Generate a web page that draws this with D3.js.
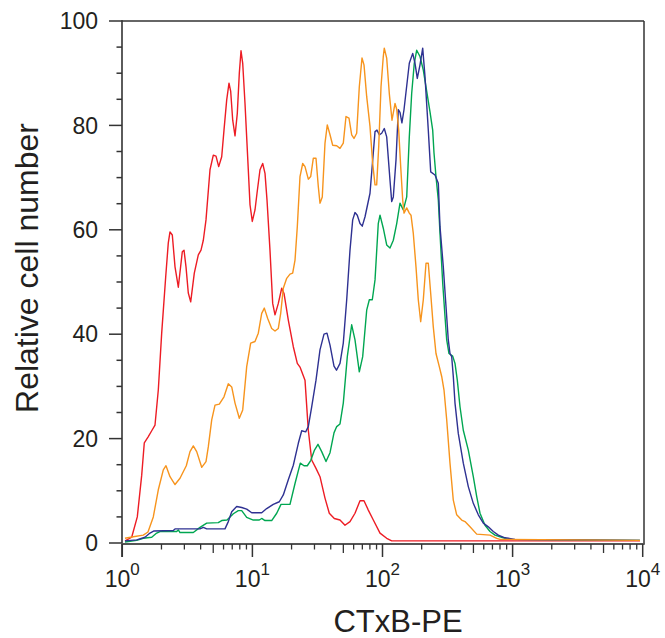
<!DOCTYPE html>
<html>
<head>
<meta charset="utf-8">
<script src="https://cdn.jsdelivr.net/npm/d3@7"></script>
<style>
  html, body { margin: 0; padding: 0; background: #fff; }
  svg { display: block; }
  text { font-family: "Liberation Sans", Arial, Helvetica, sans-serif; fill: #231f20; }
</style>
</head>
<body>
<svg id="chart" width="665" height="638"></svg>
<script>
// ---- data (x = CTxB-PE fluorescence, y = relative cell number) ----
const redData = [[1.049,0.4],[1.181,1.1],[1.304,5.0],[1.410,13.0],[1.476,19.2],[1.576,20.3],[1.692,21.6],[1.784,22.6],[1.891,29.3],[2.008,40.2],[2.156,51.0],[2.257,57.5],[2.326,59.6],[2.423,59.0],[2.542,52.9],[2.695,49.0],[2.892,55.8],[2.981,56.1],[3.088,52.9],[3.216,47.9],[3.355,46.2],[3.576,51.7],[3.839,55.2],[4.027,56.1],[4.195,58.0],[4.399,61.9],[4.722,71.5],[5.006,74.3],[5.251,74.1],[5.508,72.1],[5.808,74.0],[6.049,79.1],[6.346,84.9],[6.609,88.1],[6.811,86.5],[7.058,81.0],[7.351,78.0],[7.655,82.3],[7.932,90.0],[8.175,94.3],[8.424,91.9],[8.773,84.2],[9.300,71.5],[9.585,64.8],[9.98,61.6],[10.47,63.8],[10.85,67.0],[11.44,71.5],[12.00,72.7],[12.50,70.8],[12.95,65.7],[13.65,56.1],[14.32,45.9],[14.92,43.7],[15.82,45.9],[16.80,48.8],[17.50,47.8],[18.88,42.7],[20.63,37.6],[22.14,34.4],[23.22,33.7],[25.37,31.2],[26.90,21.6],[28.56,15.9],[30.82,14.3],[33.08,12.7],[36.14,8.6],[39.00,5.7],[42.61,4.7],[47.13,4.4],[51.49,3.4],[56.26,4.1],[61.46,5.7],[67.15,8.1],[72.08,8.1],[77.80,6.3],[85.01,4.4],[95.7,1.9],[107.7,0.9],[117.7,0.4],[9530,0.4]];

const orangeData = [[1.049,0.9],[1.215,1.2],[1.450,1.5],[1.576,2.1],[1.731,5.0],[1.891,10.2],[2.066,14.0],[2.167,14.8],[2.326,12.7],[2.542,11.2],[2.777,12.4],[3.104,14.8],[3.314,17.5],[3.514,18.6],[3.731,17.5],[4.076,14.5],[4.399,15.6],[4.581,18.4],[4.867,23.6],[5.159,26.4],[5.568,26.6],[6.049,28.0],[6.528,30.5],[6.934,29.9],[7.351,26.8],[7.932,23.9],[8.424,25.5],[9.04,33.8],[9.70,38.3],[10.47,38.6],[11.10,40.2],[11.79,44.0],[12.35,45.0],[13.11,43.0],[14.07,41.1],[14.92,40.6],[15.82,41.1],[16.50,44.0],[17.28,48.8],[18.35,50.7],[19.45,51.5],[20.40,51.7],[21.26,54.2],[22.14,60.6],[23.22,70.2],[24.36,72.7],[25.37,72.1],[26.90,69.7],[28.06,70.2],[29.38,73.7],[30.82,73.7],[32.10,68.3],[33.08,65.1],[34.45,66.3],[36.14,76.6],[37.64,80.1],[39.50,78.2],[41.42,76.2],[44.46,76.1],[47.13,75.6],[49.96,76.6],[52.41,81.7],[55.26,81.4],[57.96,78.2],[60.37,77.5],[63.33,78.5],[66.33,87.4],[69.56,92.9],[72.08,91.6],[75.6,85.5],[80.15,79.8],[84.07,72.7],[87.6,68.6],[90.2,68.6],[93.5,75.9],[97.4,87.4],[101.4,93.2],[103.2,94.8],[107.7,92.9],[112.8,86.1],[118.3,81.0],[124.8,84.2],[128.6,83.1],[133.2,79.1],[138.0,72.1],[143.0,65.7],[146.3,63.2],[153.5,64.2],[160.7,63.2],[165.6,62.8],[172.5,59.3],[180.9,52.9],[188.4,46.6],[196.6,42.4],[205.9,46.6],[216.0,53.6],[224.9,53.6],[234.7,47.8],[245.7,41.4],[257.7,36.3],[273.3,33.8],[285.1,31.9],[297.0,29.3],[311.5,23.6],[330.2,15.3],[350.1,8.2],[371.8,5.4],[406.1,4.4],[430.6,4.1],[470.6,3.1],[529.9,1.7],[670.4,1.5],[754.9,0.9],[800.2,0.7],[9530,0.5]];

const blueData = [[1.049,0.4],[1.290,0.6],[1.494,1.1],[1.633,1.9],[1.753,2.3],[2.466,2.4],[2.542,2.7],[3.956,2.7],[4.195,3.0],[4.454,2.7],[6.157,2.7],[6.528,4.1],[6.934,6.0],[7.575,7.0],[8.276,6.8],[9.04,6.5],[9.88,5.8],[11.79,5.8],[12.88,6.6],[14.47,7.4],[16.10,7.9],[17.28,9.2],[18.88,12.1],[20.63,14.9],[22.54,19.1],[23.93,21.5],[25.68,21.3],[26.90,22.3],[28.56,26.1],[30.82,31.2],[33.08,37.0],[35.51,40.0],[37.44,40.2],[39.50,37.9],[42.38,33.9],[44.30,33.1],[47.13,34.4],[49.96,38.3],[53.07,46.6],[56.26,56.1],[59.0,61.9],[61.46,63.3],[64.0,62.8],[67.15,61.2],[69.9,60.7],[73.4,62.5],[80.15,67.0],[87.6,78.8],[90.7,79.1],[94.5,78.2],[98.6,78.5],[103.2,79.4],[107.7,77.8],[114.2,69.5],[117.7,65.4],[121.1,66.3],[127.0,73.4],[132.3,83.0],[136.3,82.5],[141.0,80.5],[146.3,83.0],[160.7,91.9],[170.7,93.8],[177.8,91.9],[185.1,89.0],[194.2,91.6],[203.7,94.8],[212.2,89.3],[224.9,79.1],[234.7,71.1],[253.3,70.5],[268.5,68.9],[276.7,60.6],[293.3,52.9],[307.7,45.3],[320.4,38.9],[330.2,36.3],[340.3,35.7],[350.1,31.9],[360.8,26.8],[382.4,21.0],[417.9,15.3],[456.6,10.8],[498.8,7.6],[545.1,5.4],[595.6,3.8],[650.5,3.1],[710.6,2.2],[776.6,1.5],[874.2,1.0],[1043,0.7],[9530,0.5]];

const greenData = [[1.049,0.2],[1.290,0.5],[1.450,0.9],[1.683,1.1],[1.838,1.9],[1.949,2.2],[2.619,2.2],[2.695,2.5],[2.777,2.0],[3.514,2.0],[3.956,3.0],[4.454,3.8],[5.469,3.9],[5.808,4.3],[6.380,4.4],[7.133,5.6],[7.794,6.2],[8.276,6.2],[9.04,4.9],[10.16,4.4],[11.30,4.4],[11.79,4.7],[12.50,4.3],[14.07,4.3],[15.38,5.7],[16.59,7.4],[19.45,7.4],[21.26,11.4],[23.34,15.3],[24.93,14.8],[26.42,14.8],[28.06,15.8],[30.01,17.8],[31.93,18.9],[34.09,17.5],[36.79,15.6],[39.50,17.3],[42.38,21.1],[44.46,22.3],[47.13,22.8],[49.96,26.8],[53.64,35.7],[57.96,41.8],[61.46,38.9],[66.33,32.8],[70.43,35.7],[75.6,44.6],[79.2,46.6],[83.5,46.6],[87.6,50.4],[92.8,61.2],[95.7,62.8],[101.4,60.3],[107.7,57.1],[114.2,56.5],[121.1,58.0],[128.6,61.2],[136.3,65.1],[144.5,63.8],[153.5,66.3],[160.7,77.8],[167.6,86.1],[175.5,91.9],[183.2,94.4],[194.2,93.2],[205.9,90.6],[218.7,86.5],[231.8,82.6],[243.1,79.1],[248.8,74.7],[257.7,70.2],[268.5,65.7],[276.7,59.3],[290.2,49.8],[302.3,43.4],[311.5,38.9],[324.4,36.3],[346.4,35.8],[360.8,34.4],[375.8,31.2],[394.2,26.1],[417.9,21.6],[456.6,17.8],[498.8,12.7],[529.9,8.9],[561.7,5.7],[613.6,3.4],[670.4,2.2],[732.3,1.5],[800.2,1.2],[926.8,0.7],[9530,0.5]];

const seriesNames = ["red", "green", "blue", "orange"];
const seriesColors = ["#ed1c24", "#00a651", "#2e3192", "#f7941d"];
const yMajorTicks = [0, 20, 40, 60, 80, 100];
const yMinorTicks = [5,10,15,25,30,35,45,50,55,65,70,75,85,90,95];
const xDecades = [0, 1, 2, 3, 4];
const xMinorMultipliers = [2,3,4,5,6,7,8,9];
const xTitle = "CTxB-PE";
const yTitle = "Relative cell number";

// ---- drawing ----
const svg = d3.select("#chart");
const x = d3.scaleLog().domain([1, 1e4]).range([122.3, 642.7]);
const y = d3.scaleLinear().domain([0, 100]).range([543, 21]);
const axisColor = "#333";

// frame (top & right)
svg.append("line").attr("x1", 122).attr("x2", 644).attr("y1", 21).attr("y2", 21)
  .attr("stroke", axisColor).attr("stroke-width", 1.5);
svg.append("line").attr("x1", 644).attr("x2", 644).attr("y1", 21).attr("y2", 544.5)
  .attr("stroke", axisColor).attr("stroke-width", 1.5);

// series
const seriesData = { red: redData, green: greenData, blue: blueData, orange: orangeData };
const line = d3.line().x(d => x(d[0])).y(d => y(d[1])).curve(d3.curveLinear);
seriesNames.forEach((name, i) => {
  svg.append("path").datum(seriesData[name])
    .attr("fill", "none").attr("stroke", seriesColors[i])
    .attr("stroke-width", 1.4).attr("stroke-linejoin", "round")
    .attr("d", line);
});

// y axis
svg.append("line").attr("x1", 122).attr("x2", 122).attr("y1", 20.3).attr("y2", 557)
  .attr("stroke", axisColor).attr("stroke-width", 1.6);
svg.selectAll(".ymaj").data(yMajorTicks).enter().append("line")
  .attr("x1", 109).attr("x2", 122).attr("y1", d => y(d)).attr("y2", d => y(d))
  .attr("stroke", axisColor).attr("stroke-width", 1.5);
svg.selectAll(".ymin").data(yMinorTicks).enter().append("line")
  .attr("x1", 116.5).attr("x2", 122).attr("y1", d => y(d)).attr("y2", d => y(d))
  .attr("stroke", axisColor).attr("stroke-width", 1.5);
svg.selectAll(".ylab").data(yMajorTicks).enter().append("text")
  .attr("x", 98).attr("y", d => y(d)).attr("dy", "0.36em")
  .attr("text-anchor", "end").attr("font-size", 23).text(d => d);

// x axis
svg.append("line").attr("x1", 121).attr("x2", 644.5).attr("y1", 544).attr("y2", 544)
  .attr("stroke", "#555").attr("stroke-width", 2.2);
svg.selectAll(".xmaj").data(xDecades).enter().append("line")
  .attr("x1", d => x(Math.pow(10, d))).attr("x2", d => x(Math.pow(10, d)))
  .attr("y1", 544).attr("y2", 557)
  .attr("stroke", axisColor).attr("stroke-width", 1.5);
const minorX = [];
xDecades.slice(0, -1).forEach(e => xMinorMultipliers.forEach(m => minorX.push({v: m * Math.pow(10, e), m})));
svg.selectAll(".xmin").data(minorX).enter().append("line")
  .attr("x1", d => x(d.v)).attr("x2", d => x(d.v))
  .attr("y1", 544).attr("y2", d => d.m === 5 ? 553 : 549.5)
  .attr("stroke", axisColor).attr("stroke-width", 1.3);
const xl = svg.selectAll(".xlab").data(xDecades).enter().append("text")
  .attr("x", d => x(Math.pow(10, d))).attr("y", 587)
  .attr("text-anchor", "middle").attr("font-size", 23);
xl.append("tspan").text("10");
xl.append("tspan").attr("dy", -12).attr("font-size", 17).text(d => d);

// titles
svg.append("text").attr("x", 398).attr("y", 632).attr("text-anchor", "middle")
  .attr("font-size", 31).text(xTitle);
svg.append("text").attr("transform", "translate(38,268) rotate(-90)")
  .attr("text-anchor", "middle").attr("font-size", 32).text(yTitle);
</script>
</body>
</html>
